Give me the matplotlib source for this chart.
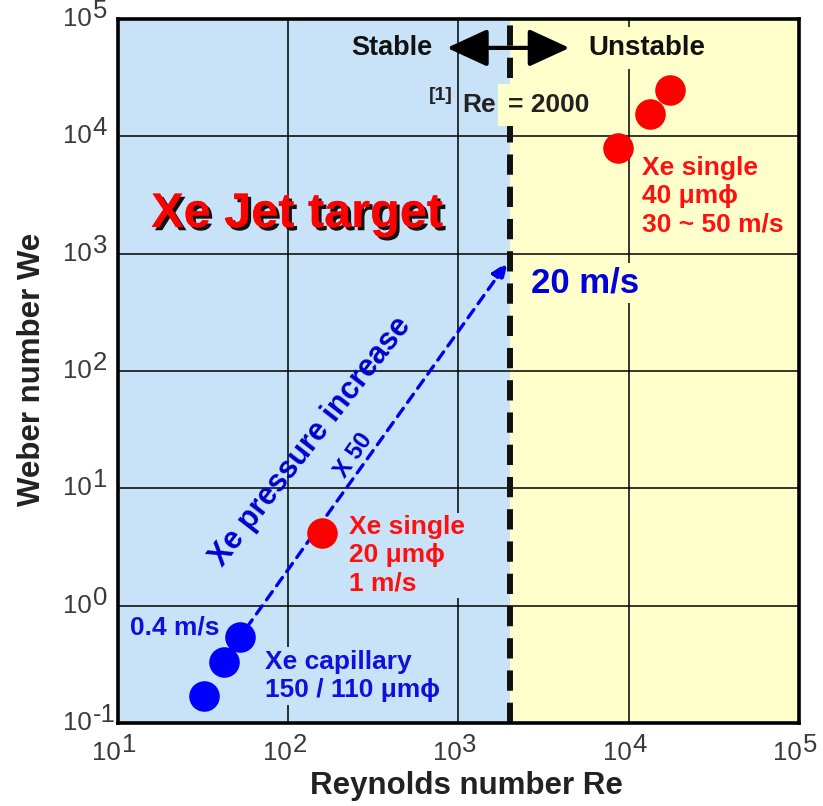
import math
import matplotlib
matplotlib.use("Agg")
import matplotlib.pyplot as plt
import matplotlib.patheffects as pe
from matplotlib.ticker import FixedLocator, NullLocator, NullFormatter

plt.rcParams["font.family"] = ["Liberation Sans", "DejaVu Sans"]

# Data: Xe jet operating points (Reynolds number, Weber number)
capillary_re = [32, 42, 52]
capillary_we = [0.17, 0.33, 0.54]
single20_re = [158]
single20_we = [4.2]
single40_re = [8600, 13300, 17400]
single40_we = [7900, 15400, 24700]

re_critical = 2000
arrow_start = (52, 0.54)
arrow_end = (1950, 850)

x_decades = [1, 2, 3, 4, 5]
y_decades = [-1, 0, 1, 2, 3, 4, 5]

BLUE_BG = "#c8e3f8"
YELLOW_BG = "#ffffcc"
TICK_COLOR = "#3a3a3a"

fig = plt.figure(figsize=(8.23, 8.06), dpi=100)
ax = fig.add_axes([0.1434, 0.1030, 0.8274, 0.8734])
ax.set_xscale("log")
ax.set_yscale("log")
ax.set_xlim(10.0 ** x_decades[0], 10.0 ** x_decades[-1])
ax.set_ylim(10.0 ** y_decades[0], 10.0 ** y_decades[-1])

# stable / unstable regions
ax.axvspan(10.0 ** x_decades[0], re_critical, color=BLUE_BG, zorder=0, lw=0)
ax.axvspan(re_critical, 10.0 ** x_decades[-1], color=YELLOW_BG, zorder=0, lw=0)

ax.xaxis.set_major_locator(FixedLocator([10.0 ** d for d in x_decades]))
ax.yaxis.set_major_locator(FixedLocator([10.0 ** d for d in y_decades]))
ax.xaxis.set_minor_locator(NullLocator())
ax.yaxis.set_minor_locator(NullLocator())
ax.xaxis.set_major_formatter(NullFormatter())
ax.yaxis.set_major_formatter(NullFormatter())
ax.grid(True, which="major", color="black", lw=1.1, zorder=1)
ax.tick_params(length=0)
for s in ax.spines.values():
    s.set_linewidth(2.6)
    s.set_color("black")
    s.set_zorder(10)

# decade tick labels: "10" with a full-size raised exponent
tick_kw = dict(fontsize=18.5, color=TICK_COLOR, annotation_clip=False)
for d in x_decades:
    base = ax.annotate("10", xy=(10.0 ** d, 0), xycoords=ax.get_xaxis_transform(),
                       xytext=(3, -30), textcoords="offset pixels",
                       ha="right", va="center", **tick_kw)
    ax.annotate(f"{d}", xy=(1, 0.5), xycoords=base,
                xytext=(1, 8), textcoords="offset pixels",
                ha="left", va="center", **tick_kw)
for d in y_decades:
    base = ax.annotate("10", xy=(0, 10.0 ** d), xycoords=ax.get_yaxis_transform(),
                       xytext=(-55, 0), textcoords="offset pixels",
                       ha="left", va="center", **tick_kw)
    ax.annotate(f"{d}", xy=(1, 0.5), xycoords=base,
                xytext=(1, 8), textcoords="offset pixels",
                ha="left", va="center", **tick_kw)

# critical Reynolds number
ax.axvline(re_critical, color="#111111", lw=4.3, ls=(0, (3.4, 2.0)), zorder=5)

# pressure increase arrow
ax.annotate("", xy=arrow_end, xytext=arrow_start,
            arrowprops=dict(arrowstyle="-|>,head_length=1.0,head_width=0.4",
                            color="#0000ee", lw=2.4, ls=(0, (3, 2.2)),
                            shrinkA=8, shrinkB=0), zorder=4)

ax.plot(capillary_re, capillary_we, "o", color="#0000ff", ms=22, mec="none", zorder=6)
ax.plot(single20_re, single20_we, "o", color="#ff0000", ms=22, mec="none", zorder=6)
ax.plot(single40_re, single40_we, "o", color="#ff0000", ms=22, mec="none", zorder=6)

# region labels and double arrow
ax.text(0.402, 0.959, "Stable", transform=ax.transAxes, ha="center", va="center",
        fontsize=19.5, fontweight="bold", color="#111111", zorder=7)
ax.annotate("", xy=(0.663, 0.959), xytext=(0.483, 0.959), xycoords="axes fraction",
            arrowprops=dict(arrowstyle="<|-|>,head_length=2.5,head_width=1.15",
                            color="black", lw=3, shrinkA=0, shrinkB=0), zorder=7)
ax.text(0.777, 0.959, "Unstable", transform=ax.transAxes, ha="center", va="center",
        fontsize=20, fontweight="bold", color="#111111", zorder=7,
        bbox=dict(boxstyle="square,pad=0.3", fc=YELLOW_BG, ec="none"))
ax.text(0.457, 0.892, "[1]", transform=ax.transAxes, ha="left", va="center",
        fontsize=14, fontweight="bold", color="#222222", zorder=7)
ax.text(0.506, 0.878, "Re", transform=ax.transAxes, ha="left", va="center",
        fontsize=19, fontweight="bold", color="#222222", zorder=7)
ax.text(0.572, 0.878, "= 2000", transform=ax.transAxes, ha="left", va="center",
        fontsize=19, fontweight="bold", color="#222222", zorder=7,
        bbox=dict(boxstyle="square,pad=0.35", fc=YELLOW_BG, ec="none"))

title = ax.text(0.263, 0.7045, "Xe Jet target", transform=ax.transAxes, ha="center",
                va="baseline", fontsize=35, fontweight="bold", color="#ff0000", zorder=7)
title.set_path_effects([pe.withSimplePatchShadow(offset=(2.3, -2.3),
                                                 shadow_rgbFace="#111111", alpha=1),
                        pe.Normal()])

ax.text(0.606, 0.611, "20 m/s", transform=ax.transAxes, ha="left", va="baseline",
        fontsize=25, fontweight="bold", color="#0000dd", zorder=7,
        bbox=dict(boxstyle="square,pad=0.1", fc=YELLOW_BG, ec="none"))

ax.text(0.283, 0.399, "Xe pressure increase", transform=ax.transAxes, ha="center",
        va="center", rotation=52, fontsize=22, fontweight="bold", color="#0000cc",
        zorder=7)
ax.text(0.346, 0.380, "X 50", transform=ax.transAxes, ha="center", va="center",
        rotation=55, fontsize=17, fontweight="bold", color="#0000cc", zorder=7)

red_kw = dict(fontsize=19, fontweight="bold", color="#ff1010", ha="left",
              va="center", linespacing=1.22, zorder=7)
ax.text(0.769, 0.748, "Xe single\n40 μmϕ\n30 ~ 50 m/s", transform=ax.transAxes,
        bbox=dict(boxstyle="square,pad=0.1", fc=YELLOW_BG, ec="none"), **red_kw)
ax.text(0.339, 0.238, "Xe single\n20 μmϕ\n1 m/s", transform=ax.transAxes,
        bbox=dict(boxstyle="square,pad=0.1", fc=BLUE_BG, ec="none"), **red_kw)

blue_kw = dict(fontsize=19, fontweight="bold", color="#1010dd", ha="left",
               va="center", linespacing=1.22, zorder=7)
ax.text(0.0176, 0.136, "0.4 m/s", transform=ax.transAxes, **blue_kw)
ax.text(0.216, 0.0668, "Xe capillary\n150 / 110 μmϕ", transform=ax.transAxes,
        bbox=dict(boxstyle="square,pad=0.1", fc=BLUE_BG, ec="none"), **blue_kw)

ax.set_xlabel("Reynolds number Re", fontsize=22.5, fontweight="bold", color="#222222")
ax.set_ylabel("Weber number We", fontsize=22.5, fontweight="bold", color="#222222")
ax.xaxis.set_label_coords(0.511, -0.068)
ax.yaxis.set_label_coords(-0.105, 0.503)

fig.savefig("out.png", dpi=100, facecolor="white")
